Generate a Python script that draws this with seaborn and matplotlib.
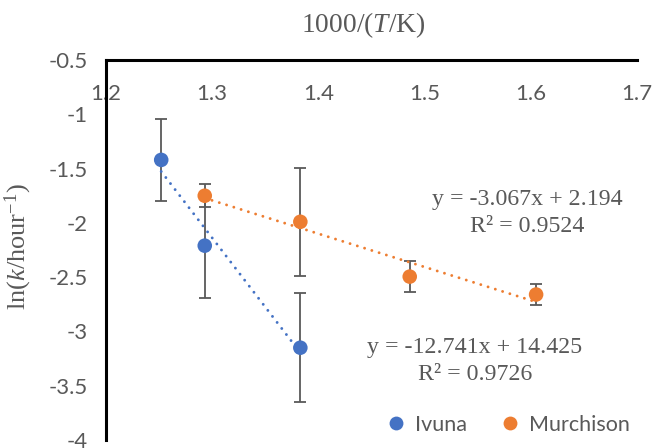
import pandas as pd
import matplotlib.pyplot as plt
import seaborn as sns

# data
ivuna_x = [1.252, 1.293, 1.383]
ivuna_y = [-1.42, -2.21, -3.15]
ivuna_err = [0.38, 0.485, 0.50]

murch_x = [1.293, 1.383, 1.486, 1.605]
murch_y = [-1.75, -1.99, -2.495, -2.66]
murch_err = [0.107, 0.50, 0.146, 0.097]

# Excel trendline coefficients (slope, intercept)
ivuna_fit = (-12.741, 14.425)
murch_fit = (-3.067, 2.194)
ivuna_label = ["y = -12.741x + 14.425", "R² = 0.9726"]
murch_label = ["y = -3.067x + 2.194", "R² = 0.9524"]

xticks = [1.2, 1.3, 1.4, 1.5, 1.6, 1.7]
yticks = [-4, -3.5, -3, -2.5, -2, -1.5, -1, -0.5]

blue = "#4472C4"
orange = "#ED7D31"
grey = "#595959"

df = pd.DataFrame({
    "x": ivuna_x + murch_x,
    "y": ivuna_y + murch_y,
    "err": ivuna_err + murch_err,
    "sample": ["Ivuna"] * len(ivuna_x) + ["Murchison"] * len(murch_x),
})

sns.set_style("white")
plt.rcParams["font.family"] = ["Lato", "DejaVu Sans"]
plt.rcParams["mathtext.fontset"] = "custom"
plt.rcParams["mathtext.it"] = "Liberation Serif:italic"
plt.rcParams["mathtext.rm"] = "Liberation Serif"

fig = plt.figure(figsize=(6.53, 4.48), dpi=100)
ax = fig.add_axes([0.1623, 0.0179, 0.8132, 0.8481])

# trendlines
for xs, (m, b), col in [(ivuna_x, ivuna_fit, blue), (murch_x, murch_fit, orange)]:
    fx = [min(xs), max(xs)]
    fy = [m * v + b for v in fx]
    sns.lineplot(x=fx, y=fy, ax=ax, color=col, lw=2.1,
                 linestyle=(0, (0.01, 2.6)), dash_capstyle="round", zorder=2)

# error bars
ax.errorbar(df["x"], df["y"], yerr=df["err"], fmt="none", ecolor=grey,
            elinewidth=1.3, capsize=4.5, capthick=1.3, zorder=1)

sns.scatterplot(data=df, x="x", y="y", hue="sample",
                palette={"Ivuna": blue, "Murchison": orange},
                s=110, edgecolor="none", ax=ax, zorder=3)

ax.set_xlim(1.2, 1.7)
ax.set_ylim(-4, -0.5)
ax.set_xticks(xticks)
ax.set_yticks(yticks)
ax.set_xticklabels([f"{v:g}" for v in xticks])
ax.set_yticklabels([f"{v:g}" for v in yticks])

# x axis drawn across the top at y = -0.5, labels underneath
ax.spines["bottom"].set_position(("data", -0.5))
ax.spines["top"].set_visible(False)
ax.spines["right"].set_visible(False)
for s in ["bottom", "left"]:
    ax.spines[s].set_color("black")
    ax.spines[s].set_linewidth(2.2)
ax.tick_params(axis="x", direction="out", length=5, width=2.2, color="black",
               labelsize=16, labelcolor=grey, pad=12)
ax.tick_params(axis="y", direction="in", length=5, width=2.2, color="black",
               labelsize=16, labelcolor=grey, pad=13)

ax.set_xlabel("")
ax.set_ylabel(r"ln($k$/hour$^{-1}$)", family="Liberation Serif", fontsize=19,
              color=grey)
ax.yaxis.set_label_coords(-0.136, 0.508)
fig.text(0.556, 0.944, r"1000/($T$/K)", family="Liberation Serif",
         fontsize=19.8, color=grey, ha="center", va="center")

for lab, (px, py, py2) in [(murch_label, (1.5964, -1.789, -2.038)),
                           (ivuna_label, (1.5475, -3.152, -3.40))]:
    ax.text(px, py, lab[0], family="Liberation Serif", fontsize=17.2,
            color=grey, ha="center", va="center")
    ax.text(px, py2, lab[1], family="Liberation Serif", fontsize=17.2,
            color=grey, ha="center", va="center")

leg = ax.legend(loc="center", bbox_to_anchor=(0.746, 0.04), ncol=2,
                frameon=False, fontsize=15.5, handletextpad=-0.1,
                columnspacing=1.0, markerscale=0.95, borderpad=0)
for t in leg.get_texts():
    t.set_color(grey)

fig.savefig("out.png", dpi=100)
